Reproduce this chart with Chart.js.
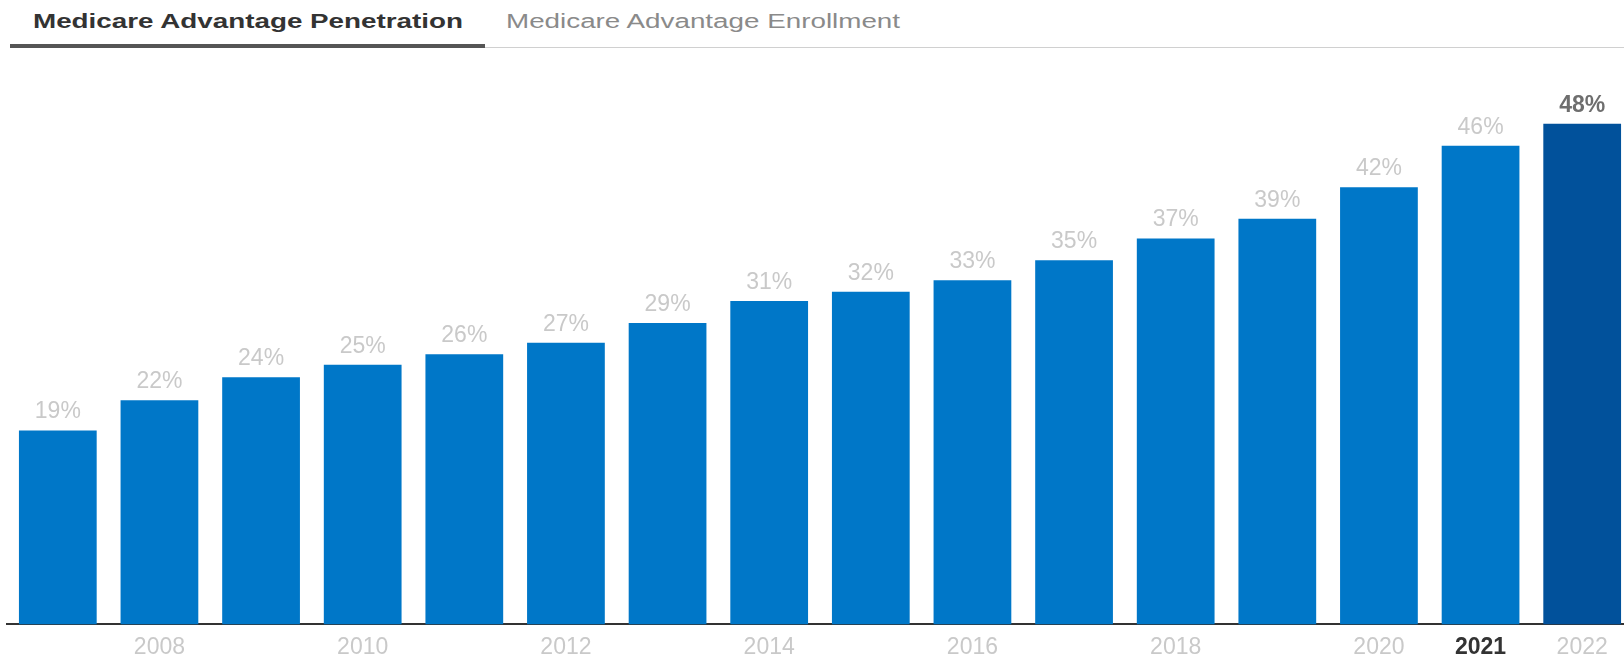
<!DOCTYPE html>
<html lang="en">
<head>
    <meta charset="UTF-8">
    <title>Medicare Advantage Penetration</title>
    <style>
        html, body {
            margin: 0;
            width: 1624px;
            height: 656px;
            overflow: hidden;
            background: #fff;
            font-family: Arial, "Liberation Sans", sans-serif;
        }

        .tab {
            position: absolute;
            top: 10px;
            font-size: 20px;
            white-space: nowrap;
            transform: scaleX(1.39);
            transform-origin: left top;
        }

        .tab.active {
            left: 33px;
            font-weight: bold;
            color: #333;
        }

        .tab.other {
            left: 506px;
            color: #8a8a8a;
        }

        .tab-line {
            position: absolute;
            left: 10px;
            top: 44px;
            width: 475px;
            height: 4px;
            background: #555;
        }

        .tab-rule {
            position: absolute;
            left: 485px;
            top: 47px;
            right: 0;
            height: 1px;
            background: #d0d0d0;
        }

        .chart-box {
            position: absolute;
            left: 0;
            top: 60px;
            width: 1640px;
            height: 610px;
        }
    </style>
</head>
<body>

<div class="tab active">Medicare Advantage Penetration</div>
<div class="tab other">Medicare Advantage Enrollment</div>
<div class="tab-line"></div>
<div class="tab-rule"></div>

<div class="chart-box">
    <canvas id="myChart"></canvas>
</div>

<script src="https://cdn.jsdelivr.net/npm/chart.js"></script>
<script>
    const years = ['2007', '2008', '2009', '2010', '2011', '2012', '2013', '2014',
                   '2015', '2016', '2017', '2018', '2019', '2020', '2021', '2022'];
    const penetration = [18.6, 21.5, 23.7, 24.9, 25.9, 27.0, 28.9, 31.0,
                         31.9, 33.0, 34.9, 37.0, 38.9, 41.9, 45.9, 48.0];
    const valueLabels = ['19%', '22%', '24%', '25%', '26%', '27%', '29%', '31%',
                         '32%', '33%', '35%', '37%', '39%', '42%', '46%', '48%'];
    const tickLabels = ['', '2008', '', '2010', '', '2012', '', '2014',
                        '', '2016', '', '2018', '', '2020', '2021', '2022'];

    const lastIndex = years.length - 1;
    const boldTick = 14; // 2021

    // draw the % above each bar
    const barLabels = {
        id: 'barLabels',
        afterDatasetsDraw(chart) {
            const ctx = chart.ctx;
            const bars = chart.getDatasetMeta(0).data;
            ctx.save();
            ctx.textAlign = 'center';
            ctx.textBaseline = 'alphabetic';
            bars.forEach((bar, i) => {
                if (i === lastIndex) {
                    ctx.font = 'bold 23px Arial, "Liberation Sans", sans-serif';
                    ctx.fillStyle = '#6e6e6e';
                } else {
                    ctx.font = '23px Arial, "Liberation Sans", sans-serif';
                    ctx.fillStyle = '#c9c9c9';
                }
                ctx.fillText(valueLabels[i], bar.x, bar.y - 12);
            });
            ctx.restore();
        }
    };

    const ctx = document.getElementById('myChart').getContext('2d');
    const myChart = new Chart(ctx, {
        type: 'bar',
        data: {
            labels: years,
            datasets: [{
                data: penetration,
                backgroundColor: years.map((y, i) => i === lastIndex ? '#01519b' : '#0077c8'),
                borderWidth: 0,
                categoryPercentage: 1,
                barPercentage: 0.765
            }]
        },
        options: {
            responsive: true,
            maintainAspectRatio: false,
            animation: false,
            layout: {
                padding: { left: 7, top: 22, right: 7, bottom: 0 }
            },
            plugins: {
                legend: { display: false },
                tooltip: { enabled: false }
            },
            scales: {
                x: {
                    grid: { display: false, drawTicks: false },
                    border: { display: true, color: '#333', width: 2 },
                    ticks: {
                        autoSkip: false,
                        maxRotation: 0,
                        padding: 9,
                        callback: (value, index) => tickLabels[index],
                        color: (c) => c.index === boldTick ? '#333' : '#c9c9c9',
                        font: (c) => ({
                            family: 'Arial, "Liberation Sans", sans-serif',
                            size: 23,
                            weight: c.index === boldTick ? 'bold' : 'normal'
                        })
                    }
                },
                y: {
                    display: false,
                    min: 0,
                    max: 52
                }
            }
        },
        plugins: [barLabels]
    });
</script>

</body>
</html>
